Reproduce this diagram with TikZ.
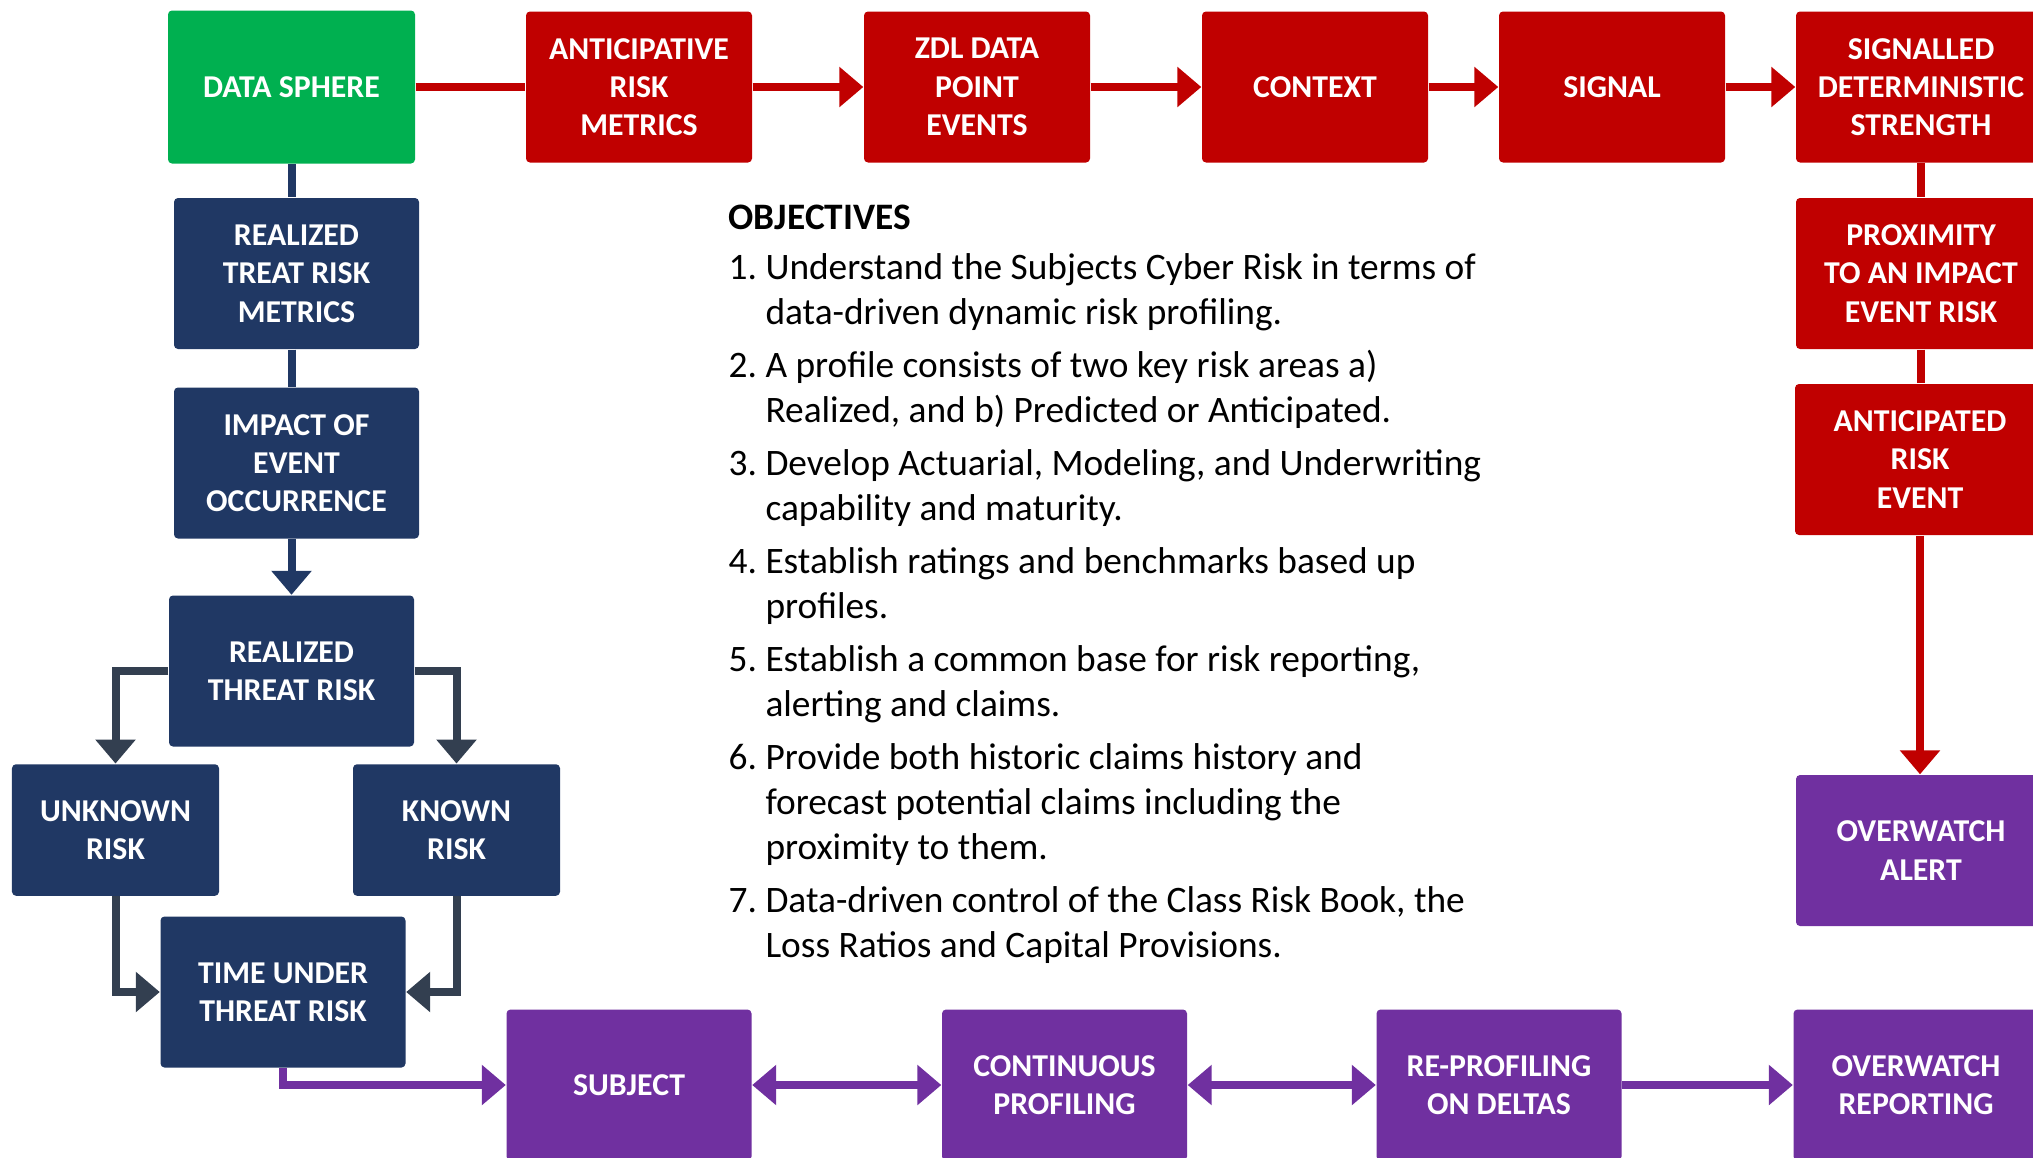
\documentclass[tikz,border=0pt]{standalone}
\usepackage{fontspec}
\setmainfont{Carlito}
\usetikzlibrary{arrows.meta}
\definecolor{riskred}{RGB}{192,0,0}
\definecolor{spheregreen}{RGB}{0,176,80}
\definecolor{realnavy}{RGB}{32,56,100}
\definecolor{watchpurple}{RGB}{112,48,160}
\definecolor{branchgrey}{RGB}{51,63,80}
\newcommand\objgap{\phantom{1. }}

\begin{document}
\begin{tikzpicture}[x=1cm,y=-1cm,
box/.style={rounded corners=.04cm,text=white,align=center,inner sep=0pt,
  minimum width=2.45cm,minimum height=1.51cm,font=\fontsize{9.05}{10.9}\selectfont\bfseries},
redbox/.style={box,fill=riskred,minimum width=2.26cm},
navybox/.style={box,fill=realnavy},
purplebox/.style={box,fill=watchpurple},
link/.style={line width=.08cm},
arr/.style={link,-{Triangle[length=.24cm,width=.39cm]}},
both/.style={link,{Triangle[length=.24cm,width=.39cm]}-{Triangle[length=.24cm,width=.39cm]}},
objtext/.style={align=left,inner sep=0pt,font=\fontsize{10.63}{12.8}\selectfont\frenchspacing}]

\useasboundingbox (0,0) rectangle (20.33,11.57);

% top row: data sphere and the anticipative chain
\node[box,fill=spheregreen,minimum width=2.47cm,minimum height=1.53cm] (sphere) at (2.915,.87) {DATA SPHERE};
\node[redbox] (antmetric) at (6.39,.87) {ANTICIPATIVE\\RISK\\METRICS};
\node[redbox] (zdl) at (9.77,.87) {ZDL DATA\\POINT\\EVENTS};
\node[redbox] (context) at (13.15,.87) {CONTEXT};
\node[redbox] (signal) at (16.12,.87) {SIGNAL};
\node[redbox,minimum width=2.5cm] (sigstrength) at (19.21,.87) {SIGNALLED\\DETERMINISTIC\\STRENGTH};

% right column
\node[redbox,minimum width=2.5cm] (proximity) at (19.21,2.735) {PROXIMITY\\TO AN IMPACT\\EVENT RISK};
\node[redbox,minimum width=2.5cm] (antevent) at (19.2,4.595) {ANTICIPATED\\RISK\\EVENT};
\node[purplebox,minimum width=2.5cm] (owalert) at (19.21,8.505) {OVERWATCH\\ALERT};

% left column
\node[navybox] (realmetric) at (2.965,2.735) {REALIZED\\TREAT RISK\\METRICS};
\node[navybox] (impact) at (2.965,4.63) {IMPACT OF\\EVENT\\OCCURRENCE};
\node[navybox] (realthreat) at (2.915,6.71) {REALIZED\\THREAT RISK};
\node[navybox,minimum width=2.07cm,minimum height=1.315cm] (unknown) at (1.155,8.3) {UNKNOWN\\RISK};
\node[navybox,minimum width=2.07cm,minimum height=1.315cm] (known) at (4.565,8.3) {KNOWN\\RISK};
\node[navybox] (timeunder) at (2.83,9.92) {TIME UNDER\\THREAT RISK};

% bottom row
\node[purplebox] (subject) at (6.29,10.85) {SUBJECT};
\node[purplebox] (continuous) at (10.645,10.85) {CONTINUOUS\\PROFILING};
\node[purplebox] (reprofile) at (14.99,10.85) {RE-PROFILING\\ON DELTAS};
\node[purplebox] (owreport) at (19.16,10.85) {OVERWATCH\\REPORTING};

% connectors
\draw[link,riskred] (sphere.east) -- (antmetric.west);
\draw[arr,riskred] (antmetric.east) -- (zdl.west);
\draw[arr,riskred] (zdl.east) -- (context.west);
\draw[arr,riskred] (context.east) -- (signal.west);
\draw[arr,riskred] (signal.east) -- (sigstrength.west);
\draw[link,riskred] (sigstrength.south) -- (proximity.north);
\draw[link,riskred] (proximity.south) -- (proximity.south |- antevent.north);
\draw[arr,riskred] (antevent.south) -- (antevent.south |- owalert.north);

\draw[link,realnavy] (sphere.south) -- (sphere.south |- realmetric.north);
\draw[link,realnavy] (sphere.south |- realmetric.south) -- (sphere.south |- impact.north);
\draw[arr,realnavy] (realthreat.north |- impact.south) -- (realthreat.north);
\draw[arr,branchgrey] (realthreat.west) -| (unknown.north);
\draw[arr,branchgrey] (realthreat.east) -| (known.north);
\draw[arr,branchgrey] (unknown.south) |- (timeunder.west);
\draw[arr,branchgrey] (known.south) |- (timeunder.east);

\draw[arr,watchpurple] (timeunder.south) |- (subject.west);
\draw[both,watchpurple] (subject.east) -- (continuous.west);
\draw[both,watchpurple] (continuous.east) -- (reprofile.west);
\draw[arr,watchpurple] (reprofile.east) -- (owreport.west);

% objectives list
\node[objtext,anchor=north west] (objectives) at (7.28,2.04) {\textbf{OBJECTIVES}\\[1.4pt]
1. Understand the Subjects Cyber Risk in terms of\\
\objgap data-driven dynamic risk profiling.\\[2.3pt]
2. A profile consists of two key risk areas a)\\
\objgap Realized, and b) Predicted or Anticipated.\\[2.3pt]
3. Develop Actuarial, Modeling, and Underwriting\\
\objgap capability and maturity.\\[2.3pt]
4. Establish ratings and benchmarks based up\\
\objgap profiles.\\[2.3pt]
5. Establish a common base for risk reporting,\\
\objgap alerting and claims.\\[2.3pt]
6. Provide both historic claims history and\\
\objgap forecast potential claims including the\\
\objgap proximity to them.\\[2.3pt]
7. Data-driven control of the Class Risk Book, the\\
\objgap Loss Ratios and Capital Provisions.};
\end{tikzpicture}
\end{document}
